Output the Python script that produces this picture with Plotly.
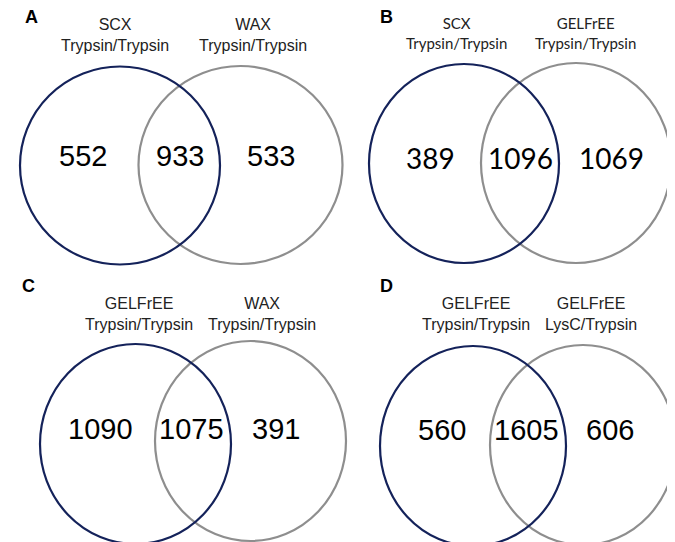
import plotly.graph_objects as go

# ---- data ----
panel_letters = ["A", "B", "C", "D"]
left_names = ["SCX<br>Trypsin/Trypsin", "SCX<br>Trypsin/Trypsin",
              "GELFrEE<br>Trypsin/Trypsin", "GELFrEE<br>Trypsin/Trypsin"]
right_names = ["WAX<br>Trypsin/Trypsin", "GELFrEE<br>Trypsin/Trypsin",
               "WAX<br>Trypsin/Trypsin", "GELFrEE<br>LysC/Trypsin"]
left_only = [552, 389, 1090, 560]
overlap = [933, 1096, 1075, 1605]
right_only = [533, 1069, 391, 606]

# ---- layout geometry (pixel space of the 675x542 canvas) ----
geom = [
    dict(L=(112, 157.5, 100, 99), R=(232.5, 157, 102, 99), letter=(23, 9),
         lab=((107, 27), (245, 27)), num_y=148, num_x=(75, 172, 263), font="Arial, Liberation Sans", nfs=29, lfs=16),
    dict(L=(456, 155.5, 95, 99.5), R=(568, 155, 95, 100), letter=(378, 9),
         lab=((448, 25), (577, 25)), num_y=150, num_x=(422, 512, 603), font="Lato", nfs=28, lfs=15),
    dict(L=(127.5, 436, 95.5, 100), R=(242.5, 433, 95.5, 100), letter=(20, 278),
         lab=((131, 306), (254, 306)), num_y=421, num_x=(92, 183, 268), font="Arial, Liberation Sans", nfs=29, lfs=16),
    dict(L=(465, 438, 93, 100), R=(575, 437, 93, 100), letter=(378, 278),
         lab=((468, 306), (583, 306)), num_y=422, num_x=(434, 518, 602), font="Arial, Liberation Sans", nfs=29, lfs=16),
]

NAVY = "#14225a"
GRAY = "#8e8e8e"

fig = go.Figure()
shapes = []
annotations = []
for i, g in enumerate(geom):
    for key, col in (("R", GRAY), ("L", NAVY)):
        cx, cy, rx, ry = g[key]
        shapes.append(dict(type="circle", xref="x", yref="y",
                           x0=cx - rx, x1=cx + rx, y0=cy - ry, y1=cy + ry,
                           line=dict(color=col, width=2.2), fillcolor="rgba(0,0,0,0)"))
    lx, ly = g["letter"]
    annotations.append(dict(x=lx, y=ly, text="<b>%s</b>" % panel_letters[i], showarrow=False,
                            xref="x", yref="y", font=dict(family="Arial, Liberation Sans", size=18, color="black")))
    for (x, y), txt in zip(g["lab"], (left_names[i], right_names[i])):
        annotations.append(dict(x=x, y=y, text=txt, showarrow=False, xref="x", yref="y",
                                font=dict(family=g["font"], size=g["lfs"], color="#222222")))
    for x, v in zip(g["num_x"], (left_only[i], overlap[i], right_only[i])):
        annotations.append(dict(x=x, y=g["num_y"], text=str(v), showarrow=False, xref="x", yref="y",
                                font=dict(family=g["font"], size=g["nfs"], color="black")))

fig.update_layout(
    width=675, height=542,
    margin=dict(l=0, r=0, t=0, b=0),
    paper_bgcolor="white", plot_bgcolor="white",
    shapes=shapes, annotations=annotations,
    xaxis=dict(range=[0, 675], visible=False, fixedrange=True),
    yaxis=dict(range=[542, 0], visible=False, fixedrange=True),
    showlegend=False,
)
fig.write_html("out.html")
